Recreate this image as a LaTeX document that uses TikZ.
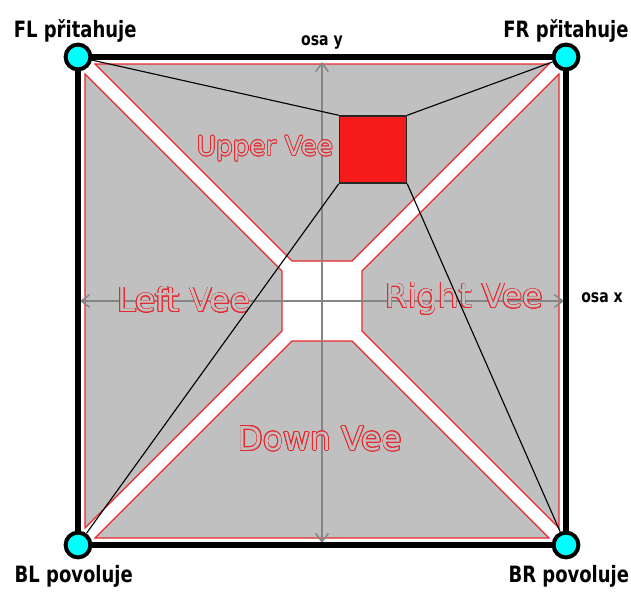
\documentclass[tikz,border=0pt]{standalone}
\usepackage{fontspec}
\setmainfont{DejaVu Sans}
\newfontfamily\labelfont[FakeStretch=0.8]{DejaVu Sans}
\usepackage{contour}
\contourlength{0.5pt}
\usetikzlibrary{positioning,arrows.meta}
\definecolor{veegray}{HTML}{C0C0C0}
\definecolor{veered}{HTML}{E8282E}
\definecolor{sqred}{HTML}{F51B1B}
\definecolor{axisgray}{HTML}{858585}
\definecolor{knobcyan}{RGB}{0,255,255}

\begin{document}
\begin{tikzpicture}[
  x=0.025cm,y=-0.025cm,
  vee/.style={fill=veegray,draw=veered,line width=0.8pt},
  corner/.style={circle,draw,fill=knobcyan,line width=2.8pt,minimum size=0.62cm,inner sep=0pt},
  lbl/.style={font=\labelfont\bfseries\fontsize{16}{18}\selectfont,inner sep=0pt},
  axislbl/.style={font=\labelfont\bfseries\fontsize{12.5}{14}\selectfont,inner sep=0pt},
  vlabel/.style={font=\fontsize{23.4}{26}\selectfont,inner sep=0pt},
  axis/.style={axisgray,line width=1pt,{Straight Barb[length=6pt,width=9pt]}-{Straight Barb[length=6pt,width=9pt]}},
  link/.style={line width=0.8pt}
]
\useasboundingbox (0,0) rectangle (631,592);

% the four vees
\draw[vee] (95,64) -- (549,64) -- (352,261) -- (292,261) -- cycle;
\draw[vee] (85,74) -- (85,528) -- (282,331) -- (282,271) -- cycle;
\draw[vee] (559,74) -- (559,528) -- (362,331) -- (362,271) -- cycle;
\draw[vee] (95,538) -- (549,538) -- (352,341) -- (292,341) -- cycle;

% axes
\coordinate (xl) at (80,301);
\coordinate (xr) at (564,301);
\coordinate (yt) at (322,62);
\coordinate (yb) at (322,543);
\draw[axis] (xl) -- (xr);
\draw[axis] (yt) -- (yb);
\node[axislbl] (osax) at (602,298) {osa x};
\node[axislbl] (osay) at (322,42) {osa y};

% labels of the vees
\node[vlabel,font=\fontsize{18.7}{21}\selectfont] (upper) at (265,149) {\contour{veered}{\textcolor{veegray}{Upper Vee}}};
\node[vlabel] (left) at (184,300) {\contour{veered}{\textcolor{veegray}{Left Vee}}};
\node[vlabel] (right) at (464,299) {\contour{veered}{\textcolor{veegray}{Right Vee}}};
\node[vlabel] (down) at (320,439) {\contour{veered}{\textcolor{veegray}{Down Vee}}};

% frame
\coordinate (fl) at (78,57);
\coordinate (fr) at (566,57);
\coordinate (bl) at (78,545);
\coordinate (br) at (566,545);
\draw[line width=4.25pt] (fl) -- (fr) -- (br) -- (bl) -- cycle;

% target square and corners
\node[draw=black!85,fill=sqred,line width=1pt,minimum size=1.675cm,inner sep=0pt] (sq) at (373,149.5) {};
\node[corner] (FL) at (fl) {};
\node[corner] (FR) at (fr) {};
\node[corner] (BL) at (bl) {};
\node[corner] (BR) at (br) {};
\draw[link] (FL) -- (sq.north west);
\draw[link] (FR) -- (sq.north east);
\draw[link] (BL) -- (sq.south west);
\draw[link] (BR) -- (sq.south east);

\node[lbl,above=0pt of FL,xshift=-2pt] (FLl) {FL přitahuje};
\node[lbl,above=0pt of FR] (FRl) {FR přitahuje};
\node[lbl,below=0.15cm of BL,xshift=-3pt] (BLl) {BL povoluje};
\node[lbl,below=0.15cm of BR,xshift=2pt] (BRl) {BR povoluje};
\end{tikzpicture}
\end{document}
